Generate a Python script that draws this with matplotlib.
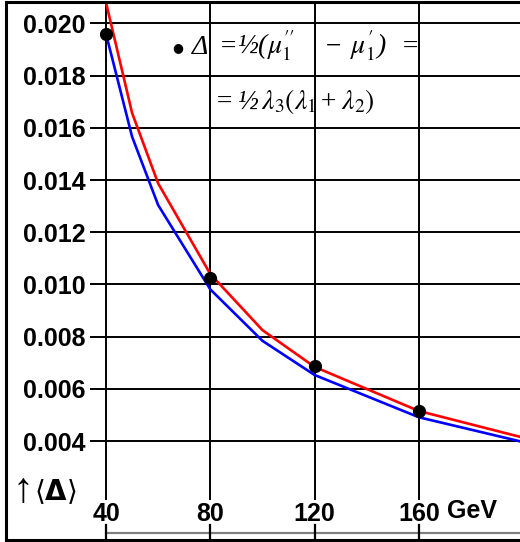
import matplotlib
matplotlib.use("Agg")
import matplotlib.pyplot as plt
from matplotlib.lines import Line2D
from matplotlib.transforms import blended_transform_factory

# ---- data ----
red_x = [40, 50, 60, 80, 100, 120, 160, 200]
red_y = [0.0208, 0.01657, 0.01387, 0.01040, 0.00825, 0.00684, 0.00515, 0.00413]
blue_x = [40, 50, 60, 80, 100, 120, 160, 200]
blue_y = [0.0196, 0.01566, 0.01304, 0.00981, 0.00784, 0.00653, 0.00491, 0.00396]
dot_x = [40, 80, 120, 160]
dot_y = [0.0196, 0.01023, 0.00686, 0.00516]
xticks = [40, 80, 120, 160]
xtick_labels = ["40", "80", "120", "160"]
yticks = [0.004, 0.006, 0.008, 0.010, 0.012, 0.014, 0.016, 0.018, 0.020]
ytick_labels = ["0.004", "0.006", "0.008", "0.010", "0.012", "0.014", "0.016", "0.018", "0.020"]
x_unit = "GeV"
y_arrow = "↑"
y_label = r"$\langle\mathbf{\Delta}\rangle$"
formula_line1 = [("Δ", 192), ("=", 219), (r"½($\mu_1''$", 237),
                 ("−", 324), (r"$\mu_1'$)", 350), ("=", 401)]
formula_line2 = [("=", 215), ("½", 237), (r"$\lambda_3(\lambda_1$", 261),
                 ("+", 319), (r"$\lambda_2)$", 341)]

W, H = 520, 542
plt.rcParams['mathtext.fontset'] = 'stix'
fig = plt.figure(figsize=(W / 100, H / 100), dpi=100)

def fx(px):
    return px / W

def fy(py):
    return 1 - py / H

ax = fig.add_axes([fx(90), fy(500), fx(520) - fx(90), fy(2) - fy(500)])
ax.set_xlim(33.86, 198.8)
ax.set_ylim(0.00174, 0.02082)
for s in ax.spines.values():
    s.set_visible(False)

ax.set_xticks(xticks)
ax.set_xticklabels(xtick_labels)
ax.set_yticks(yticks)
ax.set_yticklabels(ytick_labels)
ax.tick_params(axis='both', length=0, labelsize=18)
ax.tick_params(axis='y', pad=3.5)
ax.tick_params(axis='x', pad=1.5)
for lab in ax.get_xticklabels() + ax.get_yticklabels():
    lab.set_fontfamily(['Liberation Sans', 'DejaVu Sans'])
    lab.set_fontweight('bold')
ax.grid(True, color='black', lw=1.4)
ax.set_axisbelow(True)

ax.plot(red_x, red_y, color='#ff0000', lw=1.9, zorder=3)
ax.plot(blue_x, blue_y, color='#0000ff', lw=1.9, zorder=3)
ax.plot(dot_x, dot_y, 'o', color='black', ms=8.5, zorder=4)

# bottom axis line with ticks
tr = blended_transform_factory(ax.transData, fig.transFigure)
ax.plot([40, 198.8], [fy(533), fy(533)], color='#808080', lw=1.6, transform=tr, clip_on=False)
for xv in xticks:
    ax.plot([xv, xv], [fy(525), fy(541)], color='black', lw=1.6, transform=tr, clip_on=False)

# unit and axis label
fig.text(fx(447), fy(511), x_unit, fontsize=18, fontweight='bold',
         family=['Liberation Sans', 'DejaVu Sans'], ha='left', va='center')
fig.text(fx(12), fy(491), y_arrow, fontsize=30, family=['Liberation Sans', 'DejaVu Sans'],
         ha='left', va='center')
fig.text(fx(34), fy(492), y_label, fontsize=20, math_fontfamily='dejavusans',
         ha='left', va='center')

# formula
serif = ['Liberation Serif', 'DejaVu Serif']
fig.text(fx(178), fy(48), "●", fontsize=9, ha='center', va='center', family=['DejaVu Sans'])
for tok, xp in formula_line1:
    fig.text(fx(xp), fy(54), tok, fontsize=20, family=serif, style='italic',
             ha='left', va='baseline')
for tok, xp in formula_line2:
    fig.text(fx(xp), fy(109), tok, fontsize=20, family=serif, style='italic',
             ha='left', va='baseline')

# outer frame
frame = dict(color='black', lw=2.2, transform=fig.transFigure, figure=fig)
fig.lines.append(Line2D([fx(6), fx(6)], [fy(540), fy(2)], **frame))
fig.lines.append(Line2D([fx(6), 1], [fy(2), fy(2)], **frame))
fig.lines.append(Line2D([fx(6), 1], [fy(540), fy(540)], **frame))

fig.savefig("out.png", dpi=100)
